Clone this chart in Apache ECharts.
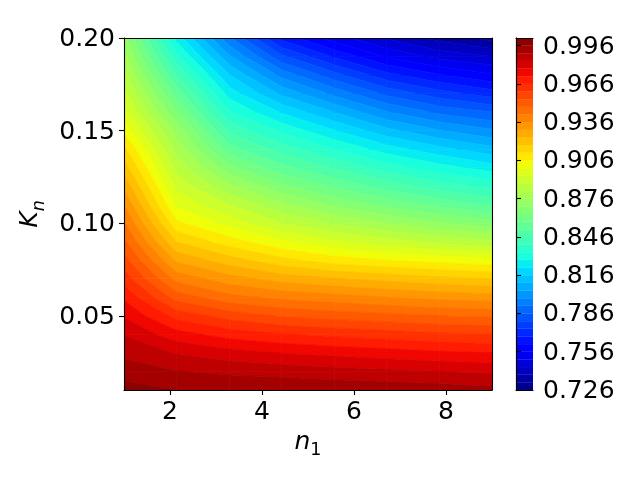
<!DOCTYPE html>
<html><head><meta charset="utf-8">
<style>html,body{margin:0;padding:0;background:#fff}#c{width:640px;height:480px}</style>
<script src="https://cdn.jsdelivr.net/npm/echarts@6/dist/echarts.min.js"></script>
</head><body><div id="c"></div>
<script>
const n1Values = [1,2.14,3.29,4.43,5.57,6.71,7.86,9];
const knValues = [.01,.02,.03,.04,.05,.06,.07,.08,.09,.10,.11,.12,.13,.14,.15,.16,.17,.18,.19,.20];
const row01 = [.9985,.9960,.9957,.9953,.9947,.9940,.9931,.9920];
const row02 = [.9935,.9903,.9887,.9876,.9863,.9852,.9841,.9830];
const row03 = [.9885,.9836,.9803,.9779,.9763,.9748,.9732,.9720];
const row04 = [.9837,.9745,.9695,.9666,.9646,.9629,.9612,.9600];
const row05 = [.9775,.9640,.9575,.9535,.9515,.9500,.9482,.9470];
const row06 = [.9710,.9515,.9440,.9405,.9385,.9361,.9342,.9330];
const row07 = [.9635,.9400,.9326,.9275,.9245,.9222,.9198,.9180];
const row08 = [.9565,.9290,.9207,.9140,.9090,.9062,.9038,.9020];
const row09 = [.9495,.9180,.9089,.9010,.8950,.8905,.8865,.8830];
const row10 = [.9430,.9075,.8975,.8880,.8815,.8760,.8710,.8665];
const row11 = [.9358,.8990,.8880,.8770,.8690,.8620,.8565,.8510];
const row12 = [.9285,.8925,.8770,.8656,.8570,.8495,.8430,.8380];
const row13 = [.9210,.8860,.8658,.8541,.8455,.8370,.8305,.8250];
const row14 = [.9135,.8800,.8548,.8431,.8340,.8250,.8180,.8120];
const row15 = [.9040,.8738,.8448,.8327,.8224,.8120,.8045,.7990];
const row16 = [.8960,.8647,.8345,.8213,.8099,.7985,.7905,.7860];
const row17 = [.8900,.8558,.8254,.8088,.7963,.7845,.7765,.7710];
const row18 = [.8840,.8461,.8162,.7960,.7823,.7700,.7625,.7570];
const row19 = [.8780,.8361,.8050,.7815,.7673,.7555,.7480,.7440];
const row20 = [.8720,.8259,.7929,.7661,.7530,.7433,.7358,.7300];
const grid = [row01,row02,row03,row04,row05,row06,row07,row08,row09,row10,row11,row12,row13,row14,row15,row16,row17,row18,row19,row20];
const levels = [.726,.732,.738,.744,.75,.756,.762,.768,.774,.78,.786,.792,.798,.804,.81,.816,.822,.828,.834,.84,.846,.852,.858,.864,.87,.876,.882,.888,.894,.9,.906,.912,.918,.924,.93,.936,.942,.948,.954,.96,.966,.972,.978,.984,.99,.996,1.002];
const xTicks = [2,4,6,8];
const yTicks = [.05,.10,.15,.20];
const cbarTicks = [.726,.756,.786,.816,.846,.876,.906,.936,.966,.996];

const seg = {
  r:[[0,0],[.35,0],[.66,1],[.89,1],[1,.5]],
  g:[[0,0],[.125,0],[.375,1],[.64,1],[.91,0],[1,0]],
  b:[[0,.5],[.11,1],[.34,1],[.65,0],[1,0]]
};
function ch(s,t){for(let i=1;i<s.length;i++){if(t<=s[i][0]){const a=s[i-1],b=s[i];return a[1]+(b[1]-a[1])*(t-a[0])/(b[0]-a[0]);}}return s[s.length-1][1];}
function jet(t){return 'rgb('+[seg.r,seg.g,seg.b].map(s=>Math.round(255*ch(s,t))).join(',')+')';}
const vmin=levels[0], vmax=levels[levels.length-1];
const bandColors = levels.slice(0,-1).map((l,i)=>jet(((l+levels[i+1])/2-vmin)/(vmax-vmin)));

function clip(poly,lev,keepAbove){
  const out=[];
  for(let i=0;i<poly.length;i++){
    const a=poly[i],b=poly[(i+1)%poly.length];
    const ia=keepAbove?a[2]>=lev:a[2]<=lev, ib=keepAbove?b[2]>=lev:b[2]<=lev;
    if(ia)out.push(a);
    if(ia!==ib){const t=(lev-a[2])/(b[2]-a[2]);out.push([a[0]+(b[0]-a[0])*t,a[1]+(b[1]-a[1])*t,lev]);}
  }
  return out;
}
const cells=[];
for(let j=0;j<knValues.length-1;j++)for(let i=0;i<n1Values.length-1;i++){
  cells.push([n1Values[i],n1Values[i+1],knValues[j],knValues[j+1],grid[j][i],grid[j][i+1],grid[j+1][i+1],grid[j+1][i]]);
}
function renderCell(params,api){
  const x0=api.value(0),x1=api.value(1),y0=api.value(2),y1=api.value(3);
  const quad=[[x0,y0,api.value(4)],[x1,y0,api.value(5)],[x1,y1,api.value(6)],[x0,y1,api.value(7)]];
  const lo=Math.min(quad[0][2],quad[1][2],quad[2][2],quad[3][2]),hi=Math.max(quad[0][2],quad[1][2],quad[2][2],quad[3][2]);
  const children=[];
  for(let k=0;k<levels.length-1;k++){
    if(levels[k+1]<lo||levels[k]>hi)continue;
    let p=clip(quad,levels[k],true); if(p.length<3)continue;
    p=clip(p,levels[k+1],false); if(p.length<3)continue;
    children.push({type:'polygon',shape:{points:p.map(q=>api.coord([q[0],q[1]]))},style:{fill:bandColors[k],stroke:bandColors[k],lineWidth:.7},silent:true});
  }
  return {type:'group',children};
}
function renderBand(params,api){
  const a=api.coord([0,api.value(0)]),b=api.coord([1,api.value(1)]);
  const c=bandColors[params.dataIndex];
  return {type:'rect',shape:{x:a[0],y:b[1],width:b[0]-a[0],height:a[1]-b[1]},style:{fill:c,stroke:c,lineWidth:.3},silent:true};
}
const font='"DejaVu Sans"', fs=25;
const line={show:true,lineStyle:{color:'#000',width:1.1}};
const tick={show:true,length:5,lineStyle:{color:'#000',width:1.1}};
const mathRich={
  i:{fontFamily:font,fontStyle:'italic',fontSize:fs,color:'#000',verticalAlign:'top',lineHeight:30},
  s:{fontFamily:font,fontStyle:'italic',fontSize:17.5,color:'#000',verticalAlign:'bottom',lineHeight:30},
  r:{fontFamily:font,fontSize:17.5,color:'#000',verticalAlign:'bottom',lineHeight:30}
};
const tickRich={t:{fontFamily:font,fontSize:fs,color:'#000',padding:[3,0,0,0]}};
const chart=echarts.init(document.getElementById('c'),null,{renderer:'canvas',devicePixelRatio:1});
chart.setOption({
  animation:false,backgroundColor:'#fff',
  grid:[{left:124,top:38,width:368,height:352},{left:516,top:38,width:17,height:352}],
  xAxis:[
    {gridIndex:0,type:'value',min:1,max:9,position:'bottom',z:10,axisLine:line,splitLine:{show:false},
     axisTick:{...tick,customValues:xTicks},
     axisLabel:{customValues:xTicks,fontFamily:font,fontSize:fs,color:'#000',margin:10,formatter:v=>String(v)},
     name:'{i|n}{r|1}',nameLocation:'middle',nameGap:36,nameTextStyle:{rich:mathRich}},
    {gridIndex:0,type:'value',min:1,max:9,position:'top',z:10,axisLine:line,axisTick:{show:false},axisLabel:{show:false},splitLine:{show:false}},
    {gridIndex:1,type:'value',min:0,max:1,position:'bottom',z:10,axisLine:line,axisTick:{show:false},axisLabel:{show:false},splitLine:{show:false}},
    {gridIndex:1,type:'value',min:0,max:1,position:'top',z:10,axisLine:line,axisTick:{show:false},axisLabel:{show:false},splitLine:{show:false}}
  ],
  yAxis:[
    {gridIndex:0,type:'value',min:.01,max:.2,position:'left',z:10,axisLine:line,splitLine:{show:false},
     axisTick:{...tick,customValues:yTicks},
     axisLabel:{customValues:yTicks,fontFamily:font,fontSize:fs,color:'#000',margin:9,rich:tickRich,verticalAlignMinLabel:'middle',verticalAlignMaxLabel:'middle',formatter:v=>'{t|'+v.toFixed(2)+'}'},
     name:'{i|K}{s|n}',nameLocation:'middle',nameGap:67,nameRotate:90,nameTextStyle:{rich:mathRich}},
    {gridIndex:0,type:'value',min:.01,max:.2,position:'right',z:10,axisLine:line,axisTick:{show:false},axisLabel:{show:false},splitLine:{show:false}},
    {gridIndex:1,type:'value',min:vmin,max:vmax,position:'right',z:10,axisLine:line,splitLine:{show:false},
     axisTick:{...tick,customValues:cbarTicks},
     axisLabel:{customValues:cbarTicks,fontFamily:font,fontSize:fs,color:'#000',margin:10,rich:tickRich,verticalAlignMinLabel:'middle',verticalAlignMaxLabel:'middle',formatter:v=>'{t|'+v.toFixed(3)+'}'}},
    {gridIndex:1,type:'value',min:vmin,max:vmax,position:'left',z:10,axisLine:line,axisTick:{show:false},axisLabel:{show:false},splitLine:{show:false}}
  ],
  series:[
    {type:'custom',xAxisIndex:0,yAxisIndex:0,coordinateSystem:'cartesian2d',data:cells,renderItem:renderCell,encode:{x:[0,1],y:[2,3]},silent:true,clip:true},
    {type:'custom',xAxisIndex:2,yAxisIndex:2,coordinateSystem:'cartesian2d',data:levels.slice(0,-1).map((l,i)=>[l,levels[i+1]]),renderItem:renderBand,encode:{y:[0,1]},silent:true,clip:true}
  ]
});
</script></body></html>
